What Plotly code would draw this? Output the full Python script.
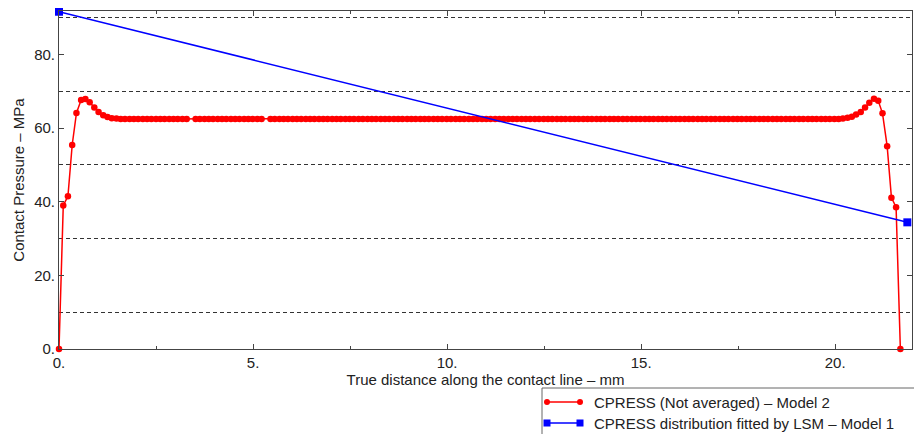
import plotly.graph_objects as go

# ---- data -------------------------------------------------------------
red_x = [
    0.00, 0.11, 0.23, 0.34, 0.45, 0.57, 0.68, 0.79, 0.91, 1.02,
    1.14, 1.25, 1.36, 1.48, 1.59, 1.70, 1.82, 1.93, 2.04, 2.16,
    2.27, 2.38, 2.50, 2.61, 2.72, 2.84, 2.95, 3.06, 3.18, 3.29,
    3.52, 3.63, 3.75, 3.86, 3.97, 4.09, 4.20, 4.31, 4.43,
    4.54, 4.65, 4.77, 4.88, 4.99, 5.11, 5.22, 5.45, 5.56,
    5.68, 5.79, 5.90, 6.02, 6.13, 6.24, 6.36, 6.47, 6.58, 6.70,
    6.81, 6.92, 7.04, 7.15, 7.26, 7.38, 7.49, 7.60, 7.72, 7.83,
    7.95, 8.06, 8.17, 8.29, 8.40, 8.51, 8.63, 8.74, 8.85, 8.97,
    9.08, 9.19, 9.31, 9.42, 9.53, 9.65, 9.76, 9.87, 9.99, 10.10,
    10.22, 10.33, 10.44, 10.56, 10.67, 10.78, 10.90, 11.01, 11.12, 11.24,
    11.35, 11.46, 11.58, 11.69, 11.80, 11.92, 12.03, 12.14, 12.26, 12.37,
    12.49, 12.60, 12.71, 12.83, 12.94, 13.05, 13.17, 13.28, 13.39, 13.51,
    13.62, 13.73, 13.85, 13.96, 14.07, 14.19, 14.30, 14.41, 14.53, 14.64,
    14.76, 14.87, 14.98, 15.10, 15.21, 15.32, 15.44, 15.55, 15.66, 15.78,
    15.89, 16.00, 16.12, 16.23, 16.34, 16.46, 16.57, 16.68, 16.80, 16.91,
    17.03, 17.14, 17.25, 17.37, 17.48, 17.59, 17.71, 17.82, 17.93, 18.05,
    18.16, 18.27, 18.39, 18.50, 18.61, 18.73, 18.84, 18.95, 19.07, 19.18,
    19.30, 19.41, 19.52, 19.64, 19.75, 19.86, 19.98, 20.09, 20.20, 20.32,
    20.43, 20.54, 20.66, 20.77, 20.88, 21.00, 21.11, 21.22, 21.34, 21.45,
    21.57, 21.68,
]
red_y = [
    0.0, 39.0, 41.5, 55.4, 64.1, 67.6, 67.9, 67.0, 65.6, 64.4,
    63.5, 63.0, 62.7, 62.6, 62.5, 62.5, 62.5, 62.5, 62.5, 62.5,
    62.5, 62.5, 62.5, 62.5, 62.5, 62.5, 62.5, 62.5, 62.5, 62.5,
    62.5, 62.5, 62.5, 62.5, 62.5, 62.5, 62.5, 62.5, 62.5,
    62.5, 62.5, 62.5, 62.5, 62.5, 62.5, 62.5, 62.5, 62.5,
    62.5, 62.5, 62.5, 62.5, 62.5, 62.5, 62.5, 62.5, 62.5, 62.5,
    62.5, 62.5, 62.5, 62.5, 62.5, 62.5, 62.5, 62.5, 62.5, 62.5,
    62.5, 62.5, 62.5, 62.5, 62.5, 62.5, 62.5, 62.5, 62.5, 62.5,
    62.5, 62.5, 62.5, 62.5, 62.5, 62.5, 62.5, 62.5, 62.5, 62.5,
    62.5, 62.5, 62.5, 62.5, 62.5, 62.5, 62.5, 62.5, 62.5, 62.5,
    62.5, 62.5, 62.5, 62.5, 62.5, 62.5, 62.5, 62.5, 62.5, 62.5,
    62.5, 62.5, 62.5, 62.5, 62.5, 62.5, 62.5, 62.5, 62.5, 62.5,
    62.5, 62.5, 62.5, 62.5, 62.5, 62.5, 62.5, 62.5, 62.5, 62.5,
    62.5, 62.5, 62.5, 62.5, 62.5, 62.5, 62.5, 62.5, 62.5, 62.5,
    62.5, 62.5, 62.5, 62.5, 62.5, 62.5, 62.5, 62.5, 62.5, 62.5,
    62.5, 62.5, 62.5, 62.5, 62.5, 62.5, 62.5, 62.5, 62.5, 62.5,
    62.5, 62.5, 62.5, 62.5, 62.5, 62.5, 62.5, 62.5, 62.5, 62.5,
    62.5, 62.5, 62.5, 62.5, 62.5, 62.5, 62.5, 62.5, 62.6, 62.8,
    63.1, 63.7, 64.4, 65.6, 66.9, 68.0, 67.4, 64.0, 55.1, 41.1,
    38.5, 0.0,
]
blue_x = [0.0, 21.86]
blue_y = [91.6, 34.4]

x_tick_vals = [0, 5, 10, 15, 20]
x_tick_text = ["0.", "5.", "10.", "15.", "20."]
x_minor_vals = [2.5, 7.5, 12.5, 17.5]
y_tick_vals = [0, 20, 40, 60, 80]
y_tick_text = ["0.", "20.", "40.", "60.", "80."]
y_grid_vals = [10, 30, 50, 70, 90]

red_name = "CPRESS (Not averaged) \u2013 Model 2"
blue_name = "CPRESS distribution fitted by LSM \u2013 Model 1"
x_title = "True distance along the contact line \u2013 mm"
y_title = "Contact Pressure \u2013 MPa"

RED = "#ff0000"
BLUE = "#0000ff"
FONT = "Liberation Sans, Arial, sans-serif"
FS = 15

# the page body has an 8px margin, so the figure is sized/offset to compensate
OFF = 8
W, H = 922 - OFF, 434 - OFF
ML, MR, MT, MB = 59 - OFF, 10, 11 - OFF, 85
PW, PH = W - ML - MR, H - MT - MB


def px_x(p):
    # p is in window pixels
    return (p - OFF - ML) / PW


def px_y(p):
    return (H - MB - (p - OFF)) / PH


fig = go.Figure()
fig.add_trace(go.Scatter(
    x=red_x, y=red_y, mode="lines+markers", name=red_name,
    line=dict(color=RED, width=1.5),
    marker=dict(color=RED, size=6.5, symbol="circle"),
    cliponaxis=False, showlegend=False,
))
fig.add_trace(go.Scatter(
    x=blue_x, y=blue_y, mode="lines+markers", name=blue_name,
    line=dict(color=BLUE, width=1.5),
    marker=dict(color=BLUE, size=8, symbol="square"),
    cliponaxis=False, showlegend=False,
))

axis_common = dict(
    showline=True, linecolor="#444", linewidth=1, mirror="allticks",
    ticks="inside", ticklen=5, tickcolor="#444", tickwidth=1,
    showgrid=False, zeroline=False, automargin=False,
    tickfont=dict(family=FONT, size=FS, color="#222"),
    tickmode="array",
)

fig.update_xaxes(
    **axis_common, range=[0, 21.98],
    tickvals=x_tick_vals, ticktext=x_tick_text,
    minor=dict(tickmode="array", tickvals=x_minor_vals, ticks="inside",
               ticklen=3, tickcolor="#444", showgrid=False),
    title=dict(text=x_title, font=dict(family=FONT, size=FS, color="#222"), standoff=3),
)
fig.update_yaxes(
    **axis_common, range=[0, 91.8],
    tickvals=y_tick_vals, ticktext=y_tick_text,
    minor=dict(tickmode="array", tickvals=y_grid_vals, ticks="", showgrid=True,
               griddash="4px,3px", gridcolor="#333", gridwidth=1),
    title=dict(text=y_title, font=dict(family=FONT, size=FS, color="#222"), standoff=5),
)

# ---- legend (drawn box) ------------------------------------------------
shapes = [dict(type="rect", xref="paper", yref="paper",
               x0=px_x(542), x1=px_x(940), y0=px_y(388), y1=px_y(450),
               line=dict(color="#666", width=1), fillcolor="white", layer="above")]
annotations = []
for yy, col, sym, name in [(402, RED, "circle", red_name), (423, BLUE, "square", blue_name)]:
    shapes.append(dict(type="line", xref="paper", yref="paper",
                       x0=px_x(547), x1=px_x(580), y0=px_y(yy), y1=px_y(yy),
                       line=dict(color=col, width=1.5), layer="above"))
    for cx in (547, 580):
        r = 3 if sym == "circle" else 3.5
        shapes.append(dict(type="circle" if sym == "circle" else "rect",
                           xref="paper", yref="paper",
                           xsizemode="pixel", ysizemode="pixel",
                           xanchor=px_x(cx), yanchor=px_y(yy),
                           x0=-r, x1=r, y0=-r, y1=r,
                           fillcolor=col, line=dict(color=col, width=0), layer="above"))
    annotations.append(dict(xref="paper", yref="paper", x=px_x(592), y=px_y(yy),
                            xanchor="left", yanchor="middle", showarrow=False,
                            text=name, font=dict(family=FONT, size=FS, color="#222")))

fig.update_layout(
    width=W, height=H,
    margin=dict(l=ML, r=MR, t=MT, b=MB, pad=0, autoexpand=False),
    paper_bgcolor="white", plot_bgcolor="white",
    shapes=shapes, annotations=annotations,
    showlegend=False,
)

fig.write_html("out.html")
